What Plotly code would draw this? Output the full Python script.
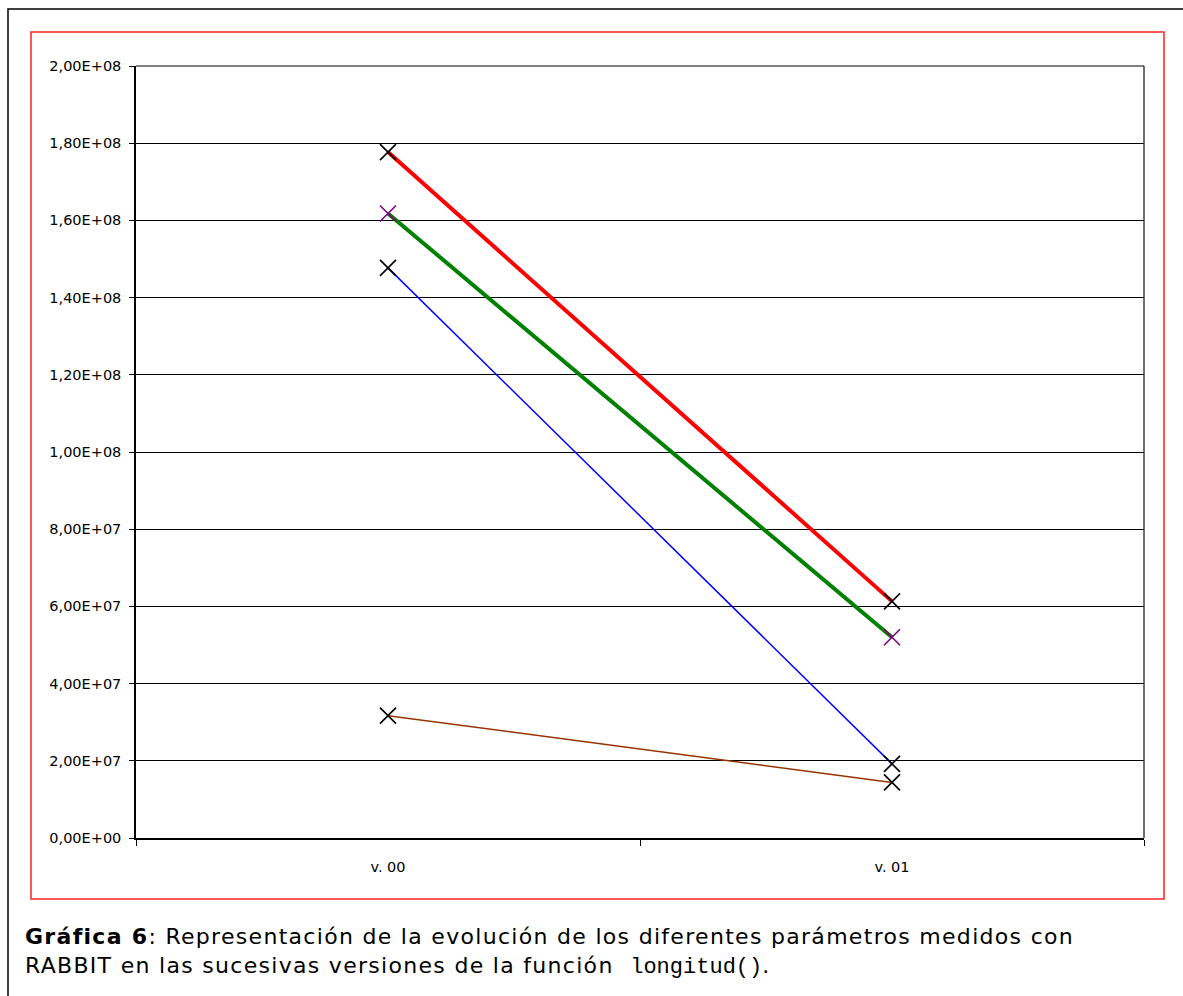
import plotly.graph_objects as go

# Versions measured and the four parameters recorded for each one
versions = ["v. 00", "v. 01"]
serie_roja = [1.777e8, 6.13e7]
serie_verde = [1.618e8, 5.20e7]
serie_azul = [1.477e8, 1.92e7]
serie_marron = [3.17e7, 1.44e7]

y_ticks = [0, 2e7, 4e7, 6e7, 8e7, 1e8, 1.2e8, 1.4e8, 1.6e8, 1.8e8, 2e8]
y_tick_text = ["0,00E+00", "2,00E+07", "4,00E+07", "6,00E+07", "8,00E+07",
               "1,00E+08", "1,20E+08", "1,40E+08", "1,60E+08", "1,80E+08",
               "2,00E+08"]

W, H = 1183, 996
L, R, T, B = 136, 1144, 66, 838  # plot area in pixels


def px_x(v):
    return (v - L) / (R - L)


def px_y(v):
    return (B - v) / (B - T)


FONT = "DejaVu Sans"

fig = go.Figure()

series = [
    (serie_marron, "#993300", 1.5, "black"),
    (serie_azul, "#0000ff", 1.5, "black"),
    (serie_verde, "#008000", 4, "#800080"),
    (serie_roja, "#ff0000", 4, "black"),
]
for vals, color, width, mcolor in series:
    fig.add_trace(go.Scatter(
        x=versions, y=vals, mode="lines",
        line=dict(color=color, width=width),
        showlegend=False, hoverinfo="skip",
    ))
for vals, color, width, mcolor in series:
    fig.add_trace(go.Scatter(
        x=versions, y=vals, mode="markers",
        marker=dict(symbol="x-thin", size=16, line=dict(color=mcolor, width=1.6)),
        showlegend=False,
    ))

shapes = [
    # outer page frame
    dict(type="rect", xref="paper", yref="paper",
         x0=px_x(8), x1=px_x(1200), y0=px_y(9), y1=px_y(1010),
         line=dict(color="black", width=1.5), fillcolor="rgba(0,0,0,0)", layer="below"),
    # red chart frame
    dict(type="rect", xref="paper", yref="paper",
         x0=px_x(31), x1=px_x(1164), y0=px_y(32), y1=px_y(899),
         line=dict(color="#ff2020", width=1.5), fillcolor="rgba(0,0,0,0)", layer="below"),
    # right and top edges of the plot area
    dict(type="line", xref="paper", yref="paper",
         x0=1, x1=1, y0=0, y1=1, line=dict(color="#404040", width=1.5)),
    dict(type="line", xref="paper", yref="paper",
         x0=0, x1=1, y0=1, y1=1, line=dict(color="black", width=1.2)),
]

caption = ("<span style=\"letter-spacing:1.3px\"><b>Gráfica 6</b>: Representación de la "
           "evolución de los diferentes parámetros medidos con</span><br>"
           "<span style=\"letter-spacing:1.3px\">RABBIT en las sucesivas versiones de la "
           "función &nbsp;</span><span style=\"font-family:'Liberation Mono'\">longitud()"
           "</span>.")

fig.update_layout(
    width=W, height=H,
    margin=dict(l=L, r=W - R, t=T, b=H - B),
    paper_bgcolor="white", plot_bgcolor="white",
    font=dict(family=FONT, color="black", size=14.5),
    shapes=shapes,
    annotations=[
        dict(xref="paper", yref="paper", x=px_x(24), y=px_y(952),
             xanchor="left", yanchor="middle", align="left",
             text=caption, showarrow=False, borderpad=0,
             font=dict(family=FONT, size=22, color="black")),
    ],
    xaxis=dict(
        type="category", range=[-0.5, 1.5],
        showline=True, linecolor="black", linewidth=1.5,
        ticks="outside", tickson="boundaries", ticklen=6, tickcolor="black",
        showgrid=False, zeroline=False,
        tickfont=dict(family=FONT, size=14.5), ticklabelstandoff=15,
    ),
    yaxis=dict(
        range=[0, 2e8], tickvals=y_ticks, ticktext=y_tick_text,
        showline=True, linecolor="black", linewidth=1.5,
        ticks="outside", ticklen=5, tickcolor="black",
        showgrid=True, gridcolor="black", gridwidth=1,
        zeroline=False, tickfont=dict(family=FONT, size=14.5),
        ticklabelstandoff=5,
    ),
)

fig.write_html("out.html")
